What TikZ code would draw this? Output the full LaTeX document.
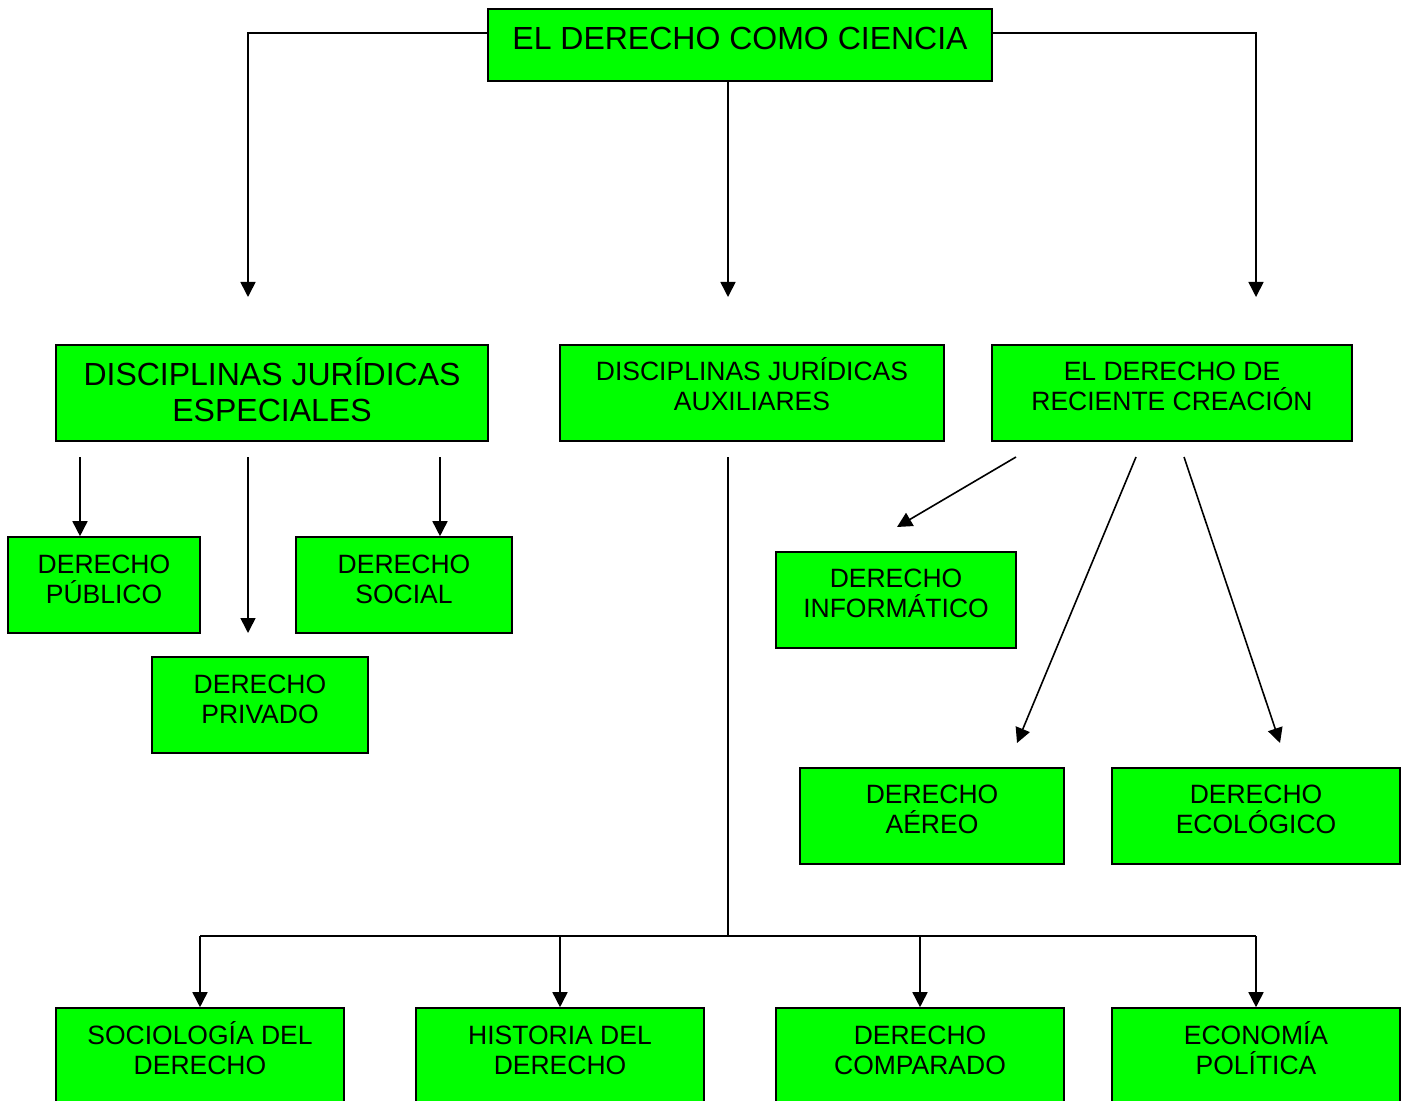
\documentclass[tikz,border=0pt]{standalone}
\usepackage{fontspec}
\setmainfont{Liberation Sans}
\definecolor{cajaverde}{RGB}{0,255,0}
\usetikzlibrary{arrows.meta}
\tikzset{
  caja/.style={draw, fill=cajaverde, line width=0.8pt, inner sep=0pt, minimum height=48pt},
  texto/.style={align=center, inner sep=0pt, font=\fontsize{13.25}{15}\selectfont},
  textogrande/.style={align=center, inner sep=0pt, font=\fontsize{16}{18}\selectfont},
  linea/.style={line width=0.8pt},
  flecha/.style={line width=0.8pt, -{Triangle[length=7.5pt,width=7.5pt]}}
}

\begin{document}
\begin{tikzpicture}[x=0.5pt, y=-0.5pt]
  \clip (0,0) rectangle (1411,1101);

  % cajas
  \node [caja, minimum width=252pt, minimum height=36pt] (ciencia) at (740,45) {};
  \node [caja, minimum width=216pt] (especiales) at (272,393) {};
  \node [caja, minimum width=192pt] (auxiliares) at (752,393) {};
  \node [caja, minimum width=180pt] (reciente) at (1172,393) {};
  \node [caja, minimum width=96pt] (publico) at (104,585) {};
  \node [caja, minimum width=108pt] (social) at (404,585) {};
  \node [caja, minimum width=108pt] (privado) at (260,705) {};
  \node [caja, minimum width=120pt] (informatico) at (896,600) {};
  \node [caja, minimum width=132pt] (aereo) at (932,816) {};
  \node [caja, minimum width=144pt] (ecologico) at (1256,816) {};
  \node [caja, minimum width=144pt] (sociologia) at (200,1056) {};
  \node [caja, minimum width=144pt] (historia) at (560,1056) {};
  \node [caja, minimum width=144pt] (comparado) at (920,1056) {};
  \node [caja, minimum width=144pt] (economia) at (1256,1056) {};

  % textos
  \node [textogrande] (cienciat) at (740,38) {EL DERECHO COMO CIENCIA};
  \node [textogrande] (especialest) at (272,390) {DISCIPLINAS JURÍDICAS\\ESPECIALES};
  \node [texto] (auxiliarest) at (752,384) {DISCIPLINAS JURÍDICAS\\AUXILIARES};
  \node [texto] (recientet) at (1172,386) {EL DERECHO DE\\RECIENTE CREACIÓN};
  \node [texto] (publicot) at (104,579) {DERECHO\\PÚBLICO};
  \node [texto] (socialt) at (404,579) {DERECHO\\SOCIAL};
  \node [texto] (privadot) at (260,699) {DERECHO\\PRIVADO};
  \node [texto] (informaticot) at (896,593) {DERECHO\\INFORMÁTICO};
  \node [texto] (aereot) at (932,809) {DERECHO\\AÉREO};
  \node [texto] (ecologicot) at (1256,809) {DERECHO\\ECOLÓGICO};
  \node [texto] (sociologiat) at (200,1048) {SOCIOLOGÍA DEL\\DERECHO};
  \node [texto] (historiat) at (560,1050) {HISTORIA DEL\\DERECHO};
  \node [texto] (comparadot) at (920,1050) {DERECHO\\COMPARADO};
  \node [texto] (economiat) at (1256,1048) {ECONOMÍA\\POLÍTICA};

  % extremos libres
  \coordinate (especialesin) at (248,297);
  \coordinate (auxiliaresin) at (728,297);
  \coordinate (recientein) at (1256,297);
  \coordinate (espa) at (80,457);
  \coordinate (espb) at (248,457);
  \coordinate (espc) at (440,457);
  \coordinate (privadoin) at (248,633);
  \coordinate (auxout) at (728,457);
  \coordinate (nudo) at (728,936);
  \coordinate (ramaa) at (200,936);
  \coordinate (ramab) at (1256,936);
  \coordinate (reca) at (1016,457);
  \coordinate (recb) at (1136,457);
  \coordinate (recc) at (1184,457);
  \coordinate (informaticoin) at (897,527);
  \coordinate (aereoin) at (1017,743);
  \coordinate (ecologicoin) at (1280,743);

  % primer nivel
  \draw [flecha] ([yshift=6pt]ciencia.west) -| (especialesin);
  \draw [flecha] (ciencia.south -| auxiliaresin) -- (auxiliaresin);
  \draw [flecha] ([yshift=6pt]ciencia.east) -| (recientein);

  % especiales
  \draw [flecha] (espa) -- (publico.north -| espa);
  \draw [flecha] (espb) -- (privadoin);
  \draw [flecha] (espc) -- (social.north -| espc);

  % auxiliares
  \draw [linea] (auxout) -- (nudo);
  \draw [linea] (ramaa) -- (ramab);
  \foreach \n in {sociologia,historia,comparado,economia} {
    \draw [flecha] (\n.north |- ramaa) -- (\n.north);
  }

  % reciente creacion
  \draw [flecha] (reca) -- (informaticoin);
  \draw [flecha] (recb) -- (aereoin);
  \draw [flecha] (recc) -- (ecologicoin);
\end{tikzpicture}
\end{document}
